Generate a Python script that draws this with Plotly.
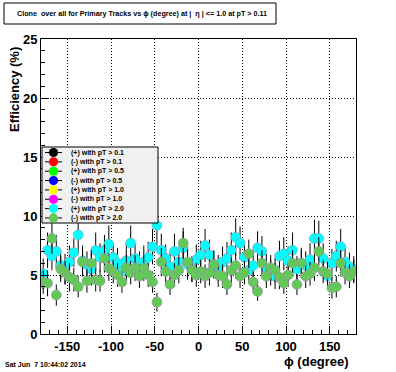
import plotly.graph_objects as go

# ---------------- data ----------------
phi = [-177.5, -172.5, -167.5, -162.5, -157.5, -152.5, -147.5, -142.5, -137.5, -132.5,
       -127.5, -122.5, -117.5, -112.5, -107.5, -102.5, -97.5, -92.5, -87.5, -82.5,
       -77.5, -72.5, -67.5, -62.5, -57.5, -52.5, -47.5, -42.5, -37.5, -32.5,
       -27.5, -22.5, -17.5, -12.5, -7.5, -2.5, 2.5, 7.5, 12.5, 17.5,
       22.5, 27.5, 32.5, 37.5, 42.5, 47.5, 52.5, 57.5, 62.5, 67.5,
       72.5, 77.5, 82.5, 87.5, 92.5, 97.5, 102.5, 107.5, 112.5, 117.5,
       122.5, 127.5, 132.5, 137.5, 142.5, 147.5, 152.5, 157.5, 162.5, 167.5,
       172.5, 177.5]

pos_pt20 = [5.1, 7.1, 6.6, 7.0, 5.8, 5.5, 6.1, 6.9, 8.4, 6.2, 5.9, 5.5, 7.1, 6.5, 7.1, 7.6, 6.5, 6.0,
            5.3, 6.2, 7.7, 6.4, 5.8, 6.1, 6.5, 7.4, 9.2, 7.1, 6.4, 5.7, 7.0, 6.1, 7.3, 5.9, 5.5, 6.3,
            6.7, 7.5, 6.7, 5.9, 5.6, 6.1, 6.4, 7.1, 8.2, 7.7, 6.5, 5.4, 5.8, 7.3, 7.0, 5.6, 5.2, 4.9,
            6.6, 6.8, 6.2, 7.1, 5.5, 6.0, 5.8, 6.3, 8.1, 8.1, 6.4, 4.9, 6.0, 6.6, 7.4, 6.1, 5.7, 5.5]
pos_pt20_err = [1.3, 1.5, 1.2, 1.4, 1.1, 1.3, 1.4, 1.2, 1.6, 1.3, 1.1, 1.4, 1.5, 1.2, 1.3, 1.6, 1.2, 1.3,
                1.1, 1.4, 1.5, 1.3, 1.2, 1.4, 1.3, 1.5, 1.7, 1.4, 1.2, 1.3, 1.5, 1.2, 1.4, 1.3, 1.1, 1.3,
                1.2, 1.4, 1.3, 1.2, 1.1, 1.3, 1.4, 1.5, 1.6, 1.4, 1.3, 1.1, 1.2, 1.4, 1.3, 1.2, 1.1, 1.1,
                1.3, 1.4, 1.2, 1.5, 1.1, 1.3, 1.2, 1.4, 1.6, 1.5, 1.3, 1.1, 1.2, 1.3, 1.5, 1.3, 1.2, 1.1]

neg_pt20 = [4.4, 4.3, 8.1, 3.3, 5.5, 5.2, 4.8, 4.6, 4.0, 6.1, 4.5, 6.0, 4.6, 4.5, 6.4, 5.6, 5.3, 5.0,
            4.4, 5.6, 5.2, 5.6, 4.9, 5.6, 5.0, 4.4, 2.7, 6.1, 5.3, 4.2, 5.0, 5.4, 7.7, 6.1, 5.4, 5.0,
            5.3, 4.9, 5.2, 5.9, 5.0, 4.9, 4.2, 5.4, 5.8, 4.9, 5.2, 6.8, 4.4, 3.6, 6.0, 4.9, 5.6, 5.4,
            4.8, 4.3, 5.0, 6.0, 4.2, 6.0, 4.9, 5.1, 5.6, 7.0, 5.3, 5.1, 3.9, 4.0, 6.0, 5.2, 4.9, 5.3]
neg_pt20_err = [1.0, 1.1, 1.3, 0.9, 1.1, 1.0, 1.2, 1.0, 0.9, 1.2, 1.0, 1.1, 1.0, 0.9, 1.2, 1.1, 1.0, 1.0,
                0.9, 1.1, 1.0, 1.1, 1.0, 1.1, 1.0, 0.9, 0.8, 1.2, 1.0, 0.9, 1.0, 1.1, 1.3, 1.1, 1.0, 1.0,
                1.0, 1.0, 1.1, 1.1, 1.0, 1.0, 0.9, 1.1, 1.1, 1.0, 1.0, 1.2, 0.9, 0.8, 1.1, 1.0, 1.1, 1.0,
                1.0, 0.9, 1.0, 1.1, 0.9, 1.1, 1.0, 1.0, 1.1, 1.2, 1.0, 1.0, 0.9, 0.9, 1.1, 1.0, 1.0, 1.0]

legend_labels = ["(+) with pT > 0.1", "(-) with pT > 0.1", "(+) with pT > 0.5", "(-) with pT > 0.5",
                 "(+) with pT > 1.0", "(-) with pT > 1.0", "(+) with pT > 2.0", "(-) with pT > 2.0"]
legend_colors = ["#000000", "#ff0000", "#00ff00", "#0000ff",
                 "#ffff00", "#ff00ff", "#00ffff", "#62c957"]

x_ticks = [-150, -100, -50, 0, 50, 100, 150]
y_ticks = [0, 5, 10, 15, 20, 25]

title_text = "Clone  over all for Primary Tracks vs \u03d5 (degree) at |  \u03b7 | <= 1.0 at pT > 0.11"
date_text = "Sat Jun  7 10:44:02 2014"

# ---------------- layout geometry (pixels) ----------------
W, H = 396, 372
L, R, T, B = 41, 356, 39, 334
pw, ph = R - L, B - T


def px(xp):
    return (xp - L) / pw


def py(yp):
    return (B - yp) / ph


FONT = "Liberation Sans, Arial, Helvetica, sans-serif"

fig = go.Figure()

fig.add_trace(go.Scatter(
    x=phi, y=pos_pt20, mode="markers", showlegend=False,
    marker=dict(color=legend_colors[6], size=10, line=dict(width=0.6, color="#a090b0")),
    error_y=dict(type="data", array=pos_pt20_err, color="black", thickness=1, width=0),
))
fig.add_trace(go.Scatter(
    x=phi, y=neg_pt20, mode="markers", showlegend=False,
    marker=dict(color=legend_colors[7], size=10, line=dict(width=0.6, color="#a090b0")),
    error_y=dict(type="data", array=neg_pt20_err, color="black", thickness=1, width=0),
))

shapes = []
annotations = []

# title box
shapes.append(dict(type="rect", xref="paper", yref="paper",
                   x0=px(4), x1=px(276), y0=py(24), y1=py(3),
                   line=dict(color="black", width=1), fillcolor="white", layer="above"))
annotations.append(dict(x=px(142), y=py(13.5), xref="paper", yref="paper", text="<b>" + title_text + "</b>",
                        showarrow=False, font=dict(family=FONT, size=7.2, color="black"),
                        xanchor="center", yanchor="middle"))

# legend box
lx0, lx1, ly0, ly1 = 42, 158, 147, 223
shapes.append(dict(type="rect", xref="paper", yref="paper",
                   x0=px(lx0), x1=px(lx1), y0=py(ly1), y1=py(ly0),
                   line=dict(color="black", width=1), fillcolor="#f0f0f0", layer="above"))
row0, dy = 152.5, 9.35
r = 4.6
for i, (lab, col) in enumerate(zip(legend_labels, legend_colors)):
    yy = row0 + i * dy
    shapes.append(dict(type="line", xref="paper", yref="paper",
                       x0=px(45), x1=px(62), y0=py(yy), y1=py(yy),
                       line=dict(color="black", width=1), layer="above"))
    shapes.append(dict(type="circle", xref="paper", yref="paper",
                       x0=px(53.5 - r), x1=px(53.5 + r), y0=py(yy + r), y1=py(yy - r),
                       line=dict(color=col, width=0), fillcolor=col, layer="above"))
    annotations.append(dict(x=px(69), y=py(yy), xref="paper", yref="paper", text="<b>" + lab + "</b>",
                            showarrow=False, font=dict(family=FONT, size=7, color="black"),
                            xanchor="left", yanchor="middle"))

# axis titles and date
annotations.append(dict(x=px(14), y=py(90), xref="paper", yref="paper", text="<b>Efficiency (%)</b>",
                        textangle=-90, showarrow=False, font=dict(family=FONT, size=13, color="black"),
                        xanchor="center", yanchor="middle"))
annotations.append(dict(x=px(351), y=py(361), xref="paper", yref="paper", text="<b>\u03d5 (degree)</b>",
                        showarrow=False, font=dict(family=FONT, size=13, color="black"),
                        xanchor="right", yanchor="middle"))
annotations.append(dict(x=px(3), y=py(364), xref="paper", yref="paper", text="<b>" + date_text + "</b>",
                        showarrow=False, font=dict(family=FONT, size=7, color="black"),
                        xanchor="left", yanchor="middle"))

fig.update_layout(
    width=W, height=H,
    margin=dict(l=L, r=W - R, t=T, b=H - B, pad=0, autoexpand=False),
    paper_bgcolor="white", plot_bgcolor="white",
    showlegend=False,
    shapes=shapes, annotations=annotations,
    font=dict(family=FONT, color="black"),
)
GRIDDASH = "1px,2px"
fig.update_xaxes(
    range=[-180, 180], tickmode="array", tickvals=x_ticks,
    ticktext=["<b>%d</b>" % v for v in x_ticks],
    ticks="inside", ticklen=8, tickwidth=1, tickcolor="black",
    minor=dict(dtick=10, ticks="inside", ticklen=4, tickcolor="black", showgrid=False),
    showline=True, linecolor="black", linewidth=1, mirror=True,
    showgrid=True, gridcolor="black", gridwidth=1, griddash=GRIDDASH,
    zeroline=False, tickfont=dict(family=FONT, size=13, color="black"),
)
fig.update_yaxes(
    range=[0, 25], tickmode="array", tickvals=y_ticks,
    ticktext=["<b>%d</b>" % v for v in y_ticks],
    ticks="inside", ticklen=8, tickwidth=1, tickcolor="black",
    minor=dict(dtick=1, ticks="inside", ticklen=4, tickcolor="black", showgrid=False),
    showline=True, linecolor="black", linewidth=1, mirror=True,
    showgrid=True, gridcolor="black", gridwidth=1, griddash=GRIDDASH,
    zeroline=False, tickfont=dict(family=FONT, size=13, color="black"),
)

fig.write_html("out.html", config={"displayModeBar": False},
               post_script="document.body.style.margin='0px';document.body.style.overflow='hidden';")
